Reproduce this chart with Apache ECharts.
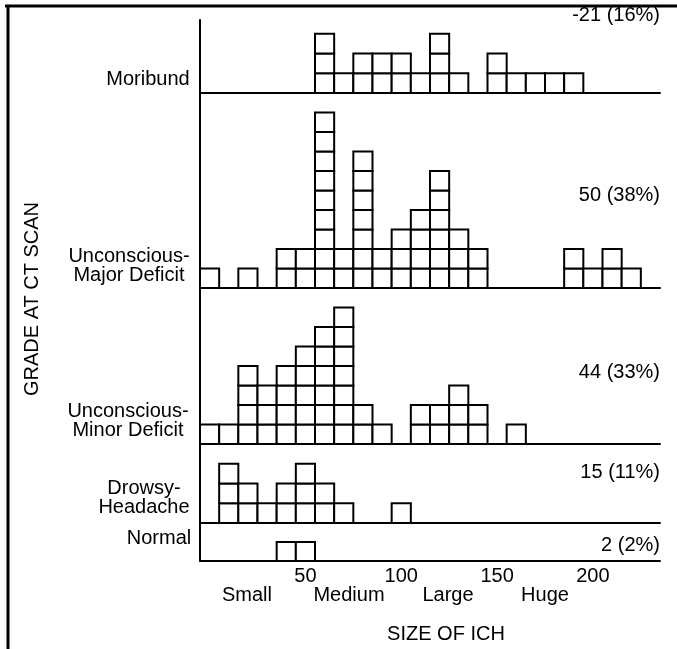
<!DOCTYPE html>
<html>
<head>
<meta charset="utf-8">
<script src="https://cdn.jsdelivr.net/npm/echarts@6/dist/echarts.min.js"></script>
<style>html,body{margin:0;padding:0;background:#fff;}#c{width:677px;height:649px;}</style>
</head>
<body>
<div id="c"></div>
<script>
// Size of ICH bins (cm3), one category per 10 units
const sizeCategories = ['0','10','20','30','40','50','60','70','80','90','100','110','120','130','140','150','160','170','180','190','200','210','220','230'];
const tickLabels = ['50','100','150','200'];
const sizeClasses = ['Small','Medium','Large','Huge'];

const grades = ['Moribund', 'Unconscious-\nMajor Deficit', 'Unconscious-\nMinor Deficit', 'Drowsy-\nHeadache', 'Normal'];
const gradeTotals = ['-21 (16%)', '50 (38%)', '44 (33%)', '15 (11%)', '2 (2%)'];

// number of patients per size bin, per grade
const moribund    = [0,0,0,0,0,0,3,1,2,2,2,1,3,1,0,2,1,1,1,1,0,0,0,0];
const majorDef    = [1,0,1,0,2,2,9,2,7,2,3,4,6,3,2,0,0,0,0,2,1,2,1,0];
const minorDef    = [1,1,4,3,4,5,6,7,2,1,0,2,2,3,2,0,1,0,0,0,0,0,0,0];
const drowsy      = [0,3,2,1,2,3,2,1,0,0,1,0,0,0,0,0,0,0,0,0,0,0,0,0];
const normal      = [0,0,0,0,1,1,0,0,0,0,0,0,0,0,0,0,0,0,0,0,0,0,0,0];

const panels = [moribund, majorDef, minorDef, drowsy, normal];

// layout of the five stacked panels
const panelTop    = [20, 93, 288, 444, 523];
const panelHeight = [73, 195, 156, 79, 38];
const panelMax    = [3.7, 10, 8, 4, 2];

const FONT = '"Liberation Sans", Arial, Helvetica, sans-serif';

function renderBoxes(params, api) {
  const idx = api.value(0), n = api.value(1);
  const w = api.size([1, 0])[0];
  const h = api.size([0, 1])[1];
  const children = [];
  for (let k = 0; k < n; k++) {
    const p = api.coord([idx, k]);
    children.push({
      type: 'rect',
      shape: {x: p[0] - w / 2, y: p[1] - h, width: w, height: h},
      style: {fill: '#fff', stroke: '#000', lineWidth: 2}
    });
  }
  return {type: 'group', children: children};
}

const grids = [], xAxes = [], yAxes = [], series = [];
panels.forEach((counts, p) => {
  grids.push({left: 200, width: 460, top: panelTop[p], height: panelHeight[p]});
  const last = p === panels.length - 1;
  xAxes.push({
    type: 'category', gridIndex: p, data: sizeCategories, boundaryGap: true,
    axisLine: {show: true, lineStyle: {color: '#000', width: 2}},
    axisTick: {show: false},
    splitLine: {show: false},
    axisLabel: last ? {
      show: true, interval: 0, color: '#000', fontSize: 20, fontFamily: FONT, margin: 5,
      formatter: v => tickLabels.indexOf(v) >= 0 ? v : ''
    } : {show: false}
  });
  yAxes.push({
    type: 'value', gridIndex: p, min: 0, max: panelMax[p],
    axisLine: {show: true, lineStyle: {color: '#000', width: 2}},
    axisTick: {show: false}, axisLabel: {show: false}, splitLine: {show: false}
  });
  series.push({
    type: 'custom', xAxisIndex: p, yAxisIndex: p, z: 1,
    renderItem: renderBoxes,
    encode: {x: 0, y: 1},
    data: counts.map((c, i) => [i, c])
  });
});

const txt = (x, y, text, opts) => ({
  type: 'text', x: x, y: y,
  style: Object.assign({text: text, fill: '#000', font: '20px ' + FONT, textAlign: 'center', textVerticalAlign: 'middle', lineHeight: 19}, opts || {})
});

const gradeLabelPos = [[148, 79], [129, 266], [128, 421], [144, 498], [159, 538]];
const totalLabelY = [15, 195, 372, 472, 545];
const sizeClassX = [247, 349, 448, 545];

const graphic = [
  {type: 'line', shape: {x1: 5, y1: 6, x2: 677, y2: 6}, style: {stroke: '#000', lineWidth: 3}},
  {type: 'line', shape: {x1: 8, y1: 5, x2: 8, y2: 649}, style: {stroke: '#000', lineWidth: 3}}
];
const yTitle = txt(32, 299, 'GRADE AT CT SCAN');
yTitle.rotation = Math.PI / 2;
graphic.push(yTitle);
graphic.push(txt(446, 634, 'SIZE OF ICH'));
grades.forEach((g, i) => graphic.push(txt(gradeLabelPos[i][0], gradeLabelPos[i][1], g)));
gradeTotals.forEach((t, i) => graphic.push(txt(660, totalLabelY[i], t, {textAlign: 'right'})));
sizeClasses.forEach((s, i) => graphic.push(txt(sizeClassX[i], 595, s)));

const chart = echarts.init(document.getElementById('c'));
chart.setOption({
  animation: false,
  backgroundColor: '#fff',
  grid: grids, xAxis: xAxes, yAxis: yAxes, series: series,
  graphic: graphic
});
</script>
</body>
</html>
